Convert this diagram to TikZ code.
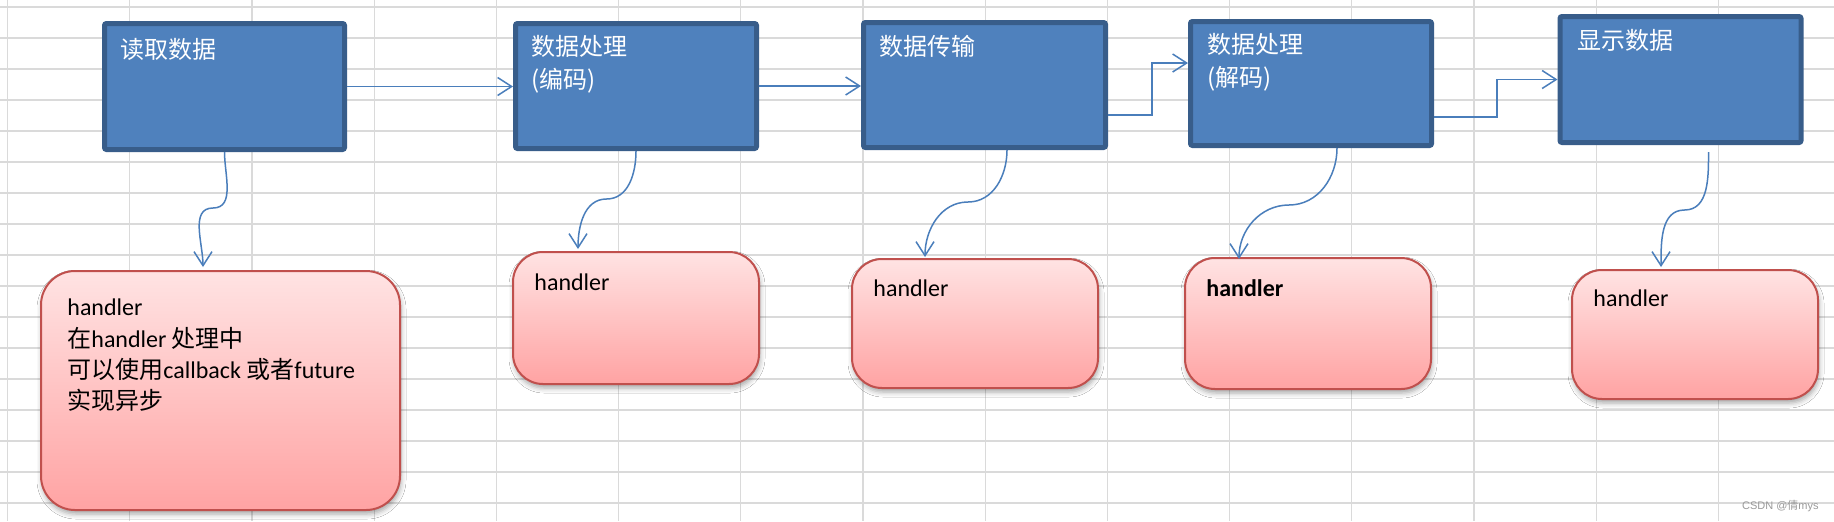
\documentclass[tikz,border=0pt]{standalone}
\usepackage{fontspec}
\setmainfont{Carlito}
\newfontfamily\cjk{Noto Sans CJK SC}
\newfontfamily\wmfont{Liberation Sans}
\usetikzlibrary{arrows.meta,shadows.blur,calc}
\definecolor{boxfill}{HTML}{4F81BD}
\definecolor{boxline}{HTML}{385D8A}
\definecolor{conn}{HTML}{4A7EBB}
\definecolor{hline}{HTML}{C0504D}
\definecolor{htop}{HTML}{FFE3E3}
\definecolor{hbot}{HTML}{FFA3A3}
\definecolor{gridc}{HTML}{DADADA}
\definecolor{wmc}{HTML}{9A9A9A}
\begin{document}
\begin{tikzpicture}[x=0.5pt,y=-0.5pt,
  bluebox/.style={draw=boxline, fill=boxfill, line width=2.5pt, rounded corners=1pt, inner sep=0pt},
  hbox/.style={draw=hline, line width=1pt, top color=htop, bottom color=hbot, rounded corners=15pt, inner sep=0pt,
    blur shadow={shadow xshift=0.5pt, shadow yshift=-2pt, shadow blur radius=2.5pt, shadow opacity=35}},
  boxtext/.style={anchor=base west, inner sep=0pt, text=white, font=\cjk\fontsize{12}{16.3}\selectfont, align=left},
  htext/.style={anchor=base west, inner sep=0pt, font=\fontsize{12}{15.65}\selectfont, align=left},
  flow/.style={draw=conn, line width=0.75pt, -{Straight Barb[length=7pt,width=9pt]}},
  gridline/.style={draw=gridc, line width=0.6pt}]
\useasboundingbox (0,0) rectangle (1834,521);
\fill[white] (0,0) rectangle (1834,521);
% grid
\foreach \i in {0,...,14} \draw[gridline] ({7.5+122.2*\i},0) -- ({7.5+122.2*\i},521);
\foreach \j in {0,...,16} \draw[gridline] (0,{7+31*\j}) -- (1834,{7+31*\j});

% top boxes
\node[bluebox, minimum width=120pt, minimum height=63pt] (b1) at (224.5,86.5) {};
\node[bluebox, minimum width=120.5pt, minimum height=62.5pt] (b2) at (636,86) {};
\node[bluebox, minimum width=121pt, minimum height=62.5pt] (b3) at (984.5,85) {};
\node[bluebox, minimum width=120.5pt, minimum height=62pt] (b4) at (1311,83.5) {};
\node[bluebox, minimum width=120.5pt, minimum height=63pt] (b5) at (1680.5,79.5) {};

% (multi-line nodes: base anchor = baseline of the last line)
\node[boxtext] (t1) at (120,58) {读取数据};
\node[boxtext] (t2) at (531,88) {数据处理\\(编码)};
\node[boxtext] (t3) at (879,55.5) {数据传输};
\node[boxtext] (t4) at (1207,86) {数据处理\\(解码)};
\node[boxtext] (t5) at (1577,49.5) {显示数据};

% handler boxes
\node[hbox, rounded corners=17pt, minimum width=179.5pt, minimum height=119.5pt] (h1) at (220.5,390.5) {};
\node[hbox, minimum width=123pt, minimum height=66pt] (h2) at (636,318) {};
\node[hbox, minimum width=123pt, minimum height=64.5pt] (h3) at (975,323.5) {};
\node[hbox, minimum width=123pt, minimum height=65.5pt] (h4) at (1308,323.5) {};
\node[hbox, minimum width=123pt, minimum height=64.5pt] (h5) at (1695,334.5) {};

\node[htext] (ht1) at (67,409.6) {handler\\{\cjk 在}handler {\cjk 处理中}\\{\cjk 可以使用}callback {\cjk 或者}future\\{\cjk 实现异步}};
\node[htext] (ht2) at (534,290.7) {handler};
\node[htext] (ht3) at (873,296) {handler};
\node[htext, font=\bfseries\fontsize{12}{15.65}\selectfont] (ht4) at (1206,296.7) {handler};
\node[htext] (ht5) at (1593,306.7) {handler};

% horizontal flow
\draw[flow] (b1.east) -- (b1.east -| b2.west);
\draw[flow] (b2.east) -- (b2.east -| b3.west);
\coordinate (k34) at (1152,63);
\draw[flow] ([yshift=-15pt]b3.east) -| (k34) -- (k34 -| b4.west);
\coordinate (k45) at (1497,79.5);
\draw[flow] ([yshift=-16.75pt]b4.east) -| (k45) -- (b5.west);

% curved connectors to handlers
\coordinate (m1) at (213,208);
\draw[flow] (b1.south) to[out=-90,in=0] (m1) to[out=180,in=90] ([xshift=-8.75pt,yshift=1.5pt]h1.north);
\coordinate (m2) at (606.5,199);
\draw[flow] (b2.south) to[out=-90,in=0] (m2) to[out=180,in=90] ([xshift=-29pt,yshift=1pt]h2.north);
\coordinate (m3) at (968,202);
\draw[flow] ([xshift=11.25pt]b3.south) to[out=-90,in=0] (m3) to[out=180,in=90] ([xshift=-25pt,yshift=0.5pt]h3.north);
\coordinate (m4) at (1289,205);
\draw[flow] ([xshift=13pt]b4.south) to[out=-90,in=0] (m4) to[out=180,in=90] ([xshift=-34.5pt,yshift=-1pt]h4.north);
\coordinate (m5) at (1684.5,210);
\draw[flow] ([xshift=14pt,yshift=-3.5pt]b5.south) to[out=-90,in=0] (m5) to[out=180,in=90] ([xshift=-17pt,yshift=1pt]h5.north);

% watermark
\node[anchor=base east, inner sep=0pt, text=wmc, font=\wmfont\fontsize{5.5}{6}\selectfont] (wm) at (1819,509) {CSDN @{\cjk 倩}mys};
\end{tikzpicture}
\end{document}
